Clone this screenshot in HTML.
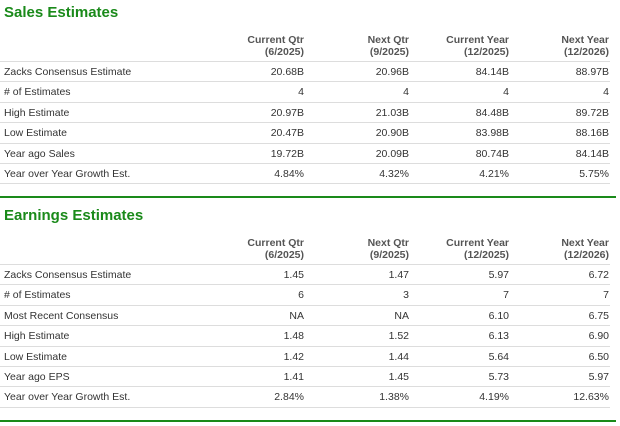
<!DOCTYPE html>
<html><head><meta charset="utf-8"><style>
body{margin:0;width:620px;height:426px;background:#fff;font-family:"Liberation Sans",Arial,sans-serif;position:relative;overflow:hidden}
.t{position:absolute;left:4px;font-size:15px;font-weight:bold;color:#1a8a1a}
.h{position:absolute;font-size:10.5px;font-weight:bold;color:#555;text-align:right;line-height:12px;width:100px}
.r{position:absolute;left:0;width:610px;height:20px;border-top:1px solid #ddd;font-size:10.5px;color:#333;line-height:20px}
.r span{position:absolute;top:0}
.r .l{left:4px}
.g{position:absolute;left:0;width:616px;height:2px;background:#1a8a1a}
</style></head><body>
<div class="t" style="top:4px">Sales Estimates</div>
<div id="s"></div>
<div class="g" style="top:196px"></div>
<div class="t" style="top:207px">Earnings Estimates</div>
<div class="g" style="top:420px"></div>
<script>
const headers=[["Current Qtr","(6/2025)"],["Next Qtr","(9/2025)"],["Current Year","(12/2025)"],["Next Year","(12/2026)"]];
const salesRows=[["Zacks Consensus Estimate","20.68B","20.96B","84.14B","88.97B"],["# of Estimates","4","4","4","4"],["High Estimate","20.97B","21.03B","84.48B","89.72B"],["Low Estimate","20.47B","20.90B","83.98B","88.16B"],["Year ago Sales","19.72B","20.09B","80.74B","84.14B"],["Year over Year Growth Est.","4.84%","4.32%","4.21%","5.75%"]];
const epsRows=[["Zacks Consensus Estimate","1.45","1.47","5.97","6.72"],["# of Estimates","6","3","7","7"],["Most Recent Consensus","NA","NA","6.10","6.75"],["High Estimate","1.48","1.52","6.13","6.90"],["Low Estimate","1.42","1.44","5.64","6.50"],["Year ago EPS","1.41","1.45","5.73","5.97"],["Year over Year Growth Est.","2.84%","1.38%","4.19%","12.63%"]];
const rights=[304,409,509,609];
function table(prefix,hTop,rTop,rows){
  headers.forEach((h,i)=>{
    const d=document.createElement('div');d.className='h';
    
    
    d.style.left=(rights[i]-100)+'px';d.style.top=hTop+'px';
    d.innerHTML=h[0]+'<br>'+h[1];document.body.appendChild(d);
  });
  rows.forEach((row,j)=>{
    const r=document.createElement('div');r.className='r';
    
    
    r.style.top=(rTop+j*20.4)+'px';
    row.forEach((c,k)=>{
      const s=document.createElement('span');s.textContent=c;
      if(k==0)s.className='l';else s.style.right=(610-rights[k-1])+'px';
      r.appendChild(s);
    });
    document.body.appendChild(r);
  });
  const b=document.createElement('div');b.className='r';b.style.height='0';
  
  
  b.style.top=(rTop+rows.length*20.4)+'px';document.body.appendChild(b);
}
table('sales',34,61,salesRows);
table('earnings',237,264,epsRows);
</script>
</body></html>
